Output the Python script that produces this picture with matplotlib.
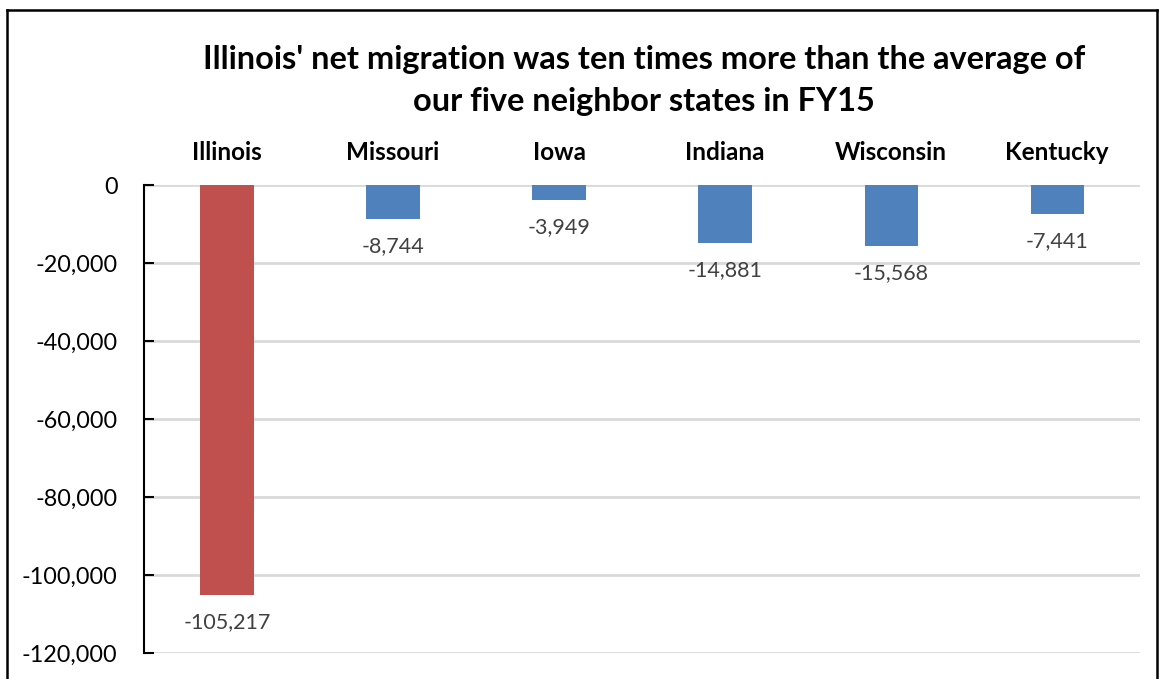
import numpy as np
import matplotlib
matplotlib.use("Agg")
import matplotlib.pyplot as plt
from matplotlib.lines import Line2D

# ── data ──────────────────────────────────────────────────────────────────────
states = ["Illinois", "Missouri", "Iowa", "Indiana", "Wisconsin", "Kentucky"]
net_migration = [-105217, -8744, -3949, -14881, -15568, -7441]
bar_colors = ["#c0504d", "#4f81bd", "#4f81bd", "#4f81bd", "#4f81bd", "#4f81bd"]
yticks = [0, -20000, -40000, -60000, -80000, -100000, -120000]

plt.rcParams["font.family"] = ["Lato", "DejaVu Sans"]

fig = plt.figure(figsize=(11.61, 6.79), dpi=100)
ax = fig.add_axes([0.124, 0.0383, 0.858, 0.6892])

x = np.arange(len(states))
ax.bar(x, net_migration, width=0.32, color=bar_colors, zorder=3)

ax.set_xlim(-0.5, len(states) - 0.5)
ax.set_ylim(-120000, 0)
ax.set_yticks(yticks)
ax.set_yticklabels([f"{v:,}" for v in yticks], fontsize=16.8)
ax.tick_params(axis="y", direction="in", length=7, width=1.5, pad=19)
ax.set_xticks([])

ax.grid(axis="y", color="#d9d9d9", linewidth=2, zorder=0)
for side in ["top", "right", "bottom"]:
    ax.spines[side].set_visible(False)
ax.spines["left"].set_linewidth(1.5)
ax.spines["left"].set_zorder(4)

# state names above the zero line
for xi, name in zip(x, states):
    ax.text(xi, 1.069, name, transform=ax.get_xaxis_transform(),
            ha="center", va="center", fontsize=17.5, fontweight="bold")

# value labels under each bar
for xi, v in zip(x, net_migration):
    ax.annotate(f"{v:,}", (xi, v), xytext=(0, -19.5), textcoords="offset points",
                ha="center", va="center", fontsize=15.5, color="#404040")

fig.text(0.555, 0.913, "Illinois' net migration was ten times more than the average of",
         ha="center", va="center", fontsize=23.4, fontweight="bold")
fig.text(0.555, 0.850, "our five neighbor states in FY15",
         ha="center", va="center", fontsize=23.4, fontweight="bold")

# chart frame
W, H = 1161, 679
frame = dict(color="black", linewidth=1.8, transform=fig.transFigure)
fig.add_artist(Line2D([7 / W, 7 / W], [0, 1 - 9.5 / H], **frame))
fig.add_artist(Line2D([7 / W, 1157 / W], [1 - 9.5 / H, 1 - 9.5 / H], **frame))
fig.add_artist(Line2D([1157 / W, 1157 / W], [0, 1 - 9.5 / H], **frame))

fig.savefig("out.png", dpi=100)
